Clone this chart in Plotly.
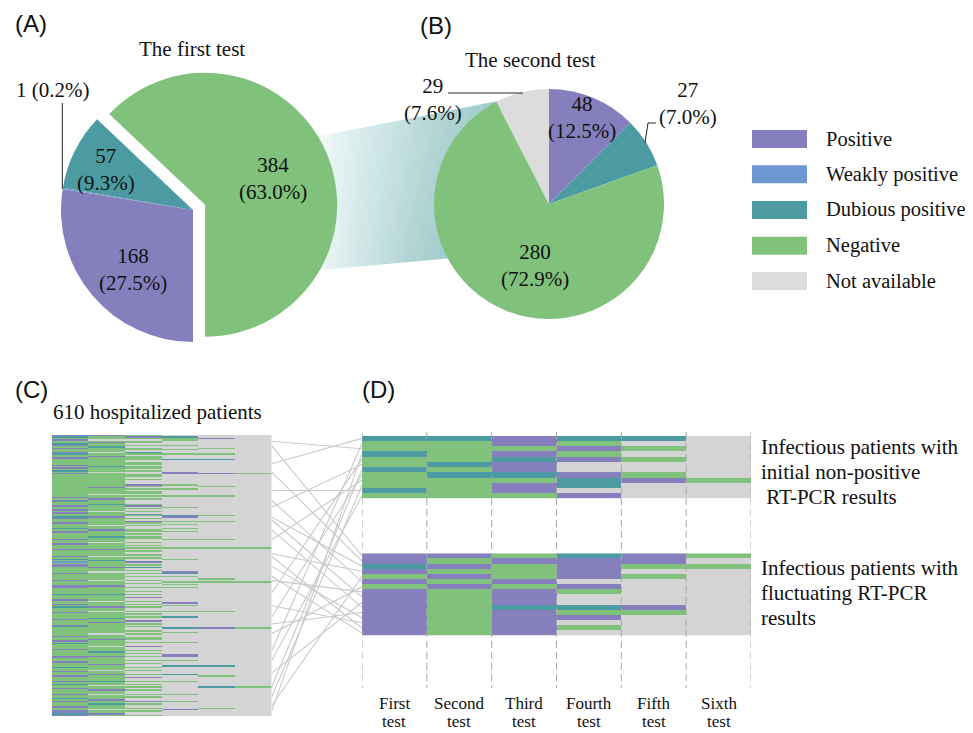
import plotly.graph_objects as go

# page body keeps an 8px margin, so the figure is made 8px smaller and every
# reference-pixel position is shifted by that offset
OFF = 8
W, H = 973, 733
FW, FH = W - OFF, H - OFF

# ---------------- data ----------------
STATUS = ["Positive", "Weakly positive", "Dubious positive", "Negative", "Not available"]
CODES = "PWDNX"
CELL_COLORS = ["#8580bd", "#6f97d1", "#4c9ba3", "#80c17c", "#d4d4d4"]
LEGEND_COLORS = ["#8580bd", "#6f97d1", "#4c9ba3", "#80c17c", "#dcdcdc"]

first_labels = ["Positive", "Weakly positive", "Dubious positive", "Negative"]
first_values = [168, 1, 57, 384]
second_labels = ["Positive", "Dubious positive", "Negative", "Not available"]
second_values = [48, 27, 280, 29]

test_names = ["First", "Second", "Third", "Fourth", "Fifth", "Sixth"]
test_word = "test"

# Panel C: 610 patients, drawn as 200 rows (about 3 patients per row)
N_C = 200
c_test1 = ("PDNPNNDPNPNNPDNNPNNN" "NPNPNDNPNNNNNNNNNNNN" "NNNNPNPDNNPNNPNPNNDP"
           "NNPNNNDNPPNNNNPNNPNN" "NPNNNNPNDNWNPPNNNNPN" "NNNPNNNPPNNNNDNNNPNN"
           "PNDNNNPNNNNPNNNPDNNN" "NNNPNNPNDNNNPNNNNPPN" "NPNNNDNNPNNPNNNPNDNN"
           "PNNNPNNDNPNNNPNNPPDP")
c_test2 = ("PNNXNPNNDNNNXNNPNNNN" "NNDNNNXNNNNNNNNNNPNN" "NNXNNPNNNDNNNNXNNNPN"
           "NNNNXNNPNNNNDNNNXNNN" "NPNNNNXNNDNNNNPNNXNN" "NNNXNNNPNNNNNDNNNNXN"
           "NNPNNXNNNNDNNPNNNNNN" "NXNNNPNNNNXNNNDNNPNN" "NNNPNNNXNNPNNNNDNNXN"
           "NPNNXNNNPNNDNNNXNNPN")
c_test3 = ("NPNXNNXNXNNXDNXNNNXN" "NXNNXNXXNNXNXXXPNXNX" "NNXNXNXXXNPXNXNXDNXN"
           "XPNXNXXNNXNXNNXXNXNX" "NXNXXNXNXXPXNXDXNXNX" "NXXNXNXXNXXNXNXPXXNX"
           "NXNXXNXNXNXXPXNXNXXN" "XNXXNNXNXXPXXNXNXNXX" "NXNXXNXNXXNXPXXNXNXN"
           "XNXXNXNXXPXNXXNXNXXN")
# sparse later tests: row -> result, all other rows not available
c_test4 = {1: "D", 2: "N", 3: "N", 7: "N", 10: "N", 13: "N", 17: "D", 26: "P", 27: "P",
           35: "N", 38: "N", 43: "N", 51: "N", 57: "D", 58: "P", 61: "N", 63: "N",
           66: "N", 68: "N", 74: "N", 80: "N", 88: "N", 97: "P", 98: "D", 100: "N",
           104: "N", 106: "N", 108: "N", 119: "P", 121: "N", 125: "N", 129: "D",
           137: "D", 140: "N", 147: "N", 156: "P", 157: "P", 160: "N", 164: "D",
           170: "D", 175: "N", 184: "N", 189: "N", 195: "P"}
c_test5 = {2: "P", 9: "N", 13: "N", 17: "D", 27: "P", 36: "N", 43: "N", 57: "N",
           61: "N", 74: "N", 80: "N", 102: "N", 104: "N", 125: "N", 137: "P",
           164: "D", 171: "N", 179: "D", 194: "N"}
c_test6 = {27: "N", 80: "N", 104: "N", 137: "N", 179: "N"}

# Panel D: two groups of infectious patients, one string per test (row order top->bottom)
d_top = ["DNNDNNDNNNDN", "DNNNNDNDNNNN", "PPNPDPPDNPPN",
         "DNPNPXXPDDXP", "DXNXNXXNPXXX", "XXXXXXXXNXXX"]
d_bottom = ["PPDPNPNPPPPPPPPP", "PNPNPNPNNNNNNNNN", "NPNNNPNPPPDPPPPP",
            "DPPPPXPNXXDNPXNX", "PPNXNXXXXXPNXXXX", "NXNXXXXXXXXXXXXX"]

# which panel-C row each panel-D row is linked to
link_top_c = [20, 153, 4, 196, 112, 51, 179, 129, 74, 186, 39, 160]
link_bottom_c = [7, 26, 58, 84, 192, 46, 141, 103, 60, 169, 67, 134, 93, 121, 86, 100]

# ---------------- layout constants (reference pixels) ----------------
C_L, C_R, C_T, C_B = 51.7, 271.7, 435.0, 716.0
D_L, D_R = 362.0, 751.0
DT_T, DT_B = 435.7, 498.3
DB_T, DB_B = 553.3, 635.7

SERIF = "Liberation Serif"
SANS = "Liberation Sans"
TXT = "#111111"


def pxx(x):
    return (x - OFF) / FW


def pxy(y):
    return 1 - (y - OFF) / FH


def code_idx(ch):
    return CODES.index(ch)


def sparse_to_str(d):
    return "".join(d.get(r, "X") for r in range(N_C))


c_cols = [c_test1, c_test2, c_test3, sparse_to_str(c_test4), sparse_to_str(c_test5), sparse_to_str(c_test6)]
c_cols = [s.ljust(N_C, "X")[:N_C] for s in c_cols]

cs = []
for i, c in enumerate(CELL_COLORS):
    cs += [[i / 5, c], [(i + 1) / 5, c]]


def grid(cols):
    n = len(cols[0])
    return [[code_idx(col[r]) for col in cols] for r in range(n)]


fig = go.Figure()

# ---------------- pies ----------------
fig.add_trace(go.Pie(
    values=first_values, labels=first_labels, sort=False, direction="clockwise",
    rotation=180, pull=[0, 0, 0, 0.1],
    marker=dict(colors=[LEGEND_COLORS[STATUS.index(l)] for l in first_labels], line=dict(width=0)),
    textinfo="none", hoverinfo="skip", showlegend=False,
    domain=dict(x=[pxx(47.8), pxx(338.2)], y=[pxy(355.2), pxy(64.8)])))
fig.add_trace(go.Pie(
    values=second_values, labels=second_labels, sort=False, direction="clockwise",
    rotation=0,
    marker=dict(colors=[LEGEND_COLORS[STATUS.index(l)] for l in second_labels], line=dict(width=0)),
    textinfo="none", hoverinfo="skip", showlegend=False,
    domain=dict(x=[pxx(434), pxx(664)], y=[pxy(319), pxy(89)])))

# ---------------- heatmaps ----------------
hm_common = dict(colorscale=cs, zmin=-0.5, zmax=4.5, showscale=False, hoverinfo="skip", zsmooth=False)
fig.add_trace(go.Heatmap(z=grid(c_cols), x=list(range(6)), y=list(range(N_C)),
                         xaxis="x", yaxis="y", **hm_common))
fig.add_trace(go.Heatmap(z=grid(d_top), x=list(range(6)), y=list(range(len(d_top[0]))),
                         xaxis="x2", yaxis="y2", **hm_common))
fig.add_trace(go.Heatmap(z=grid(d_bottom), x=list(range(6)), y=list(range(len(d_bottom[0]))),
                         xaxis="x3", yaxis="y3", **hm_common))

# ---------------- link lines ----------------
def c_row_px(r):
    return C_T + (r + 0.5) * (C_B - C_T) / N_C


def d_row_px(r, top, bot, n):
    return top + (r + 0.5) * (bot - top) / n


lx, ly = [], []
for d, c in enumerate(link_top_c):
    lx += [0, 1, None]
    ly += [c_row_px(c), d_row_px(d, DT_T, DT_B, len(d_top[0])), None]
for d, c in enumerate(link_bottom_c):
    lx += [0, 1, None]
    ly += [c_row_px(c), d_row_px(d, DB_T, DB_B, len(d_bottom[0])), None]
fig.add_trace(go.Scatter(x=lx, y=ly, mode="lines", line=dict(color="#c9c9c9", width=1.1),
                         hoverinfo="skip", showlegend=False, xaxis="x4", yaxis="y4"))

ax_hidden = dict(visible=False, showgrid=False, zeroline=False, fixedrange=True)

fig.update_layout(
    width=FW, height=FH, autosize=False,
    margin=dict(l=0, r=0, t=0, b=0),
    paper_bgcolor="white", plot_bgcolor="rgba(0,0,0,0)",
    showlegend=False,
    xaxis=dict(domain=[pxx(C_L), pxx(C_R)], range=[-0.5, 5.5], **ax_hidden),
    yaxis=dict(domain=[pxy(C_B), pxy(C_T)], range=[N_C - 0.5, -0.5], **ax_hidden),
    xaxis2=dict(domain=[pxx(D_L), pxx(D_R)], range=[-0.5, 5.5], **ax_hidden),
    yaxis2=dict(domain=[pxy(DT_B), pxy(DT_T)], range=[len(d_top[0]) - 0.5, -0.5], **ax_hidden),
    xaxis3=dict(domain=[pxx(D_L), pxx(D_R)], range=[-0.5, 5.5], **ax_hidden),
    yaxis3=dict(domain=[pxy(DB_B), pxy(DB_T)], range=[len(d_bottom[0]) - 0.5, -0.5], **ax_hidden),
    xaxis4=dict(domain=[pxx(C_R), pxx(D_L)], range=[0, 1], **ax_hidden),
    yaxis4=dict(domain=[0, 1], range=[OFF + FH, OFF], **ax_hidden),
)

shapes = []

# gradient cone from pie A to pie B
TL, TR, BL, BR = (300, 140), (503, 100), (300, 272), (452, 258)
n_layers = 30
for k in range(n_layers):
    t = k / n_layers
    p1 = (TL[0] + (TR[0] - TL[0]) * t, TL[1] + (TR[1] - TL[1]) * t)
    p2 = (BL[0] + (BR[0] - BL[0]) * t, BL[1] + (BR[1] - BL[1]) * t)
    path = "M {},{} L {},{} L {},{} L {},{} Z".format(
        pxx(p1[0]), pxy(p1[1]), pxx(TR[0]), pxy(TR[1]), pxx(BR[0]), pxy(BR[1]), pxx(p2[0]), pxy(p2[1]))
    shapes.append(dict(type="path", path=path, xref="paper", yref="paper",
                       fillcolor="rgba(95,155,165,0.024)", line=dict(width=0), layer="below"))

# callout lines
shapes.append(dict(type="line", xref="paper", yref="paper", x0=pxx(62.3), x1=pxx(62.3),
                   y0=pxy(103), y1=pxy(189), line=dict(color="#222", width=1)))
shapes.append(dict(type="line", xref="paper", yref="paper", x0=pxx(448), x1=pxx(523),
                   y0=pxy(93), y1=pxy(93), line=dict(color="#222", width=1)))
shapes.append(dict(type="path", xref="paper", yref="paper",
                   path="M {},{} L {},{} L {},{}".format(pxx(645), pxy(143), pxx(648), pxy(123), pxx(656), pxy(123)),
                   line=dict(color="#222", width=1)))

# legend swatches
legend_y = [139, 174.3, 210, 245.7, 281]
for i, yy in enumerate(legend_y):
    shapes.append(dict(type="rect", xref="paper", yref="paper", x0=pxx(752), x1=pxx(807),
                       y0=pxy(yy + 9), y1=pxy(yy - 9), fillcolor=LEGEND_COLORS[i], line=dict(width=0)))

# dashed column separators in panel D
for k in range(7):
    shapes.append(dict(type="line", xref="x3", yref="paper", x0=k - 0.5, x1=k - 0.5,
                       y0=pxy(432), y1=pxy(688), line=dict(color="#a8a8a8", width=1, dash="7px,4px"),
                       layer="above"))

ann = []


def add_text(x, y, text, size=21, family=SERIF, xanchor="center", yanchor="middle", align="center"):
    ann.append(dict(x=pxx(x), y=pxy(y), xref="paper", yref="paper", text=text, showarrow=False,
                    xanchor=xanchor, yanchor=yanchor, align=align,
                    font=dict(family=family, size=size, color=TXT)))


# panel labels
add_text(31, 24, "(A)", size=24, family=SANS)
add_text(436, 26, "(B)", size=24, family=SANS)
add_text(31, 389, "(C)", size=24, family=SANS)
add_text(378, 389, "(D)", size=24, family=SANS)

add_text(192, 49, "The first test")
add_text(530, 60, "The second test")
add_text(51, 412, "610 hospitalized patients", xanchor="left")

tot1 = sum(first_values)
tot2 = sum(second_values)


def lab(v, tot, sep="<br>"):
    return "{}{}({:.1f}%)".format(v, sep, 100 * v / tot)


# pie A labels: Positive, Weakly, Dubious, Negative
add_text(133, 270, lab(first_values[0], tot1))
add_text(52, 90, lab(first_values[1], tot1, sep=" "))
add_text(106, 170, lab(first_values[2], tot1))
add_text(273, 178, lab(first_values[3], tot1))
# pie B labels: Positive, Dubious, Negative, NA
add_text(582, 117, lab(second_values[0], tot2))
add_text(688, 103, lab(second_values[1], tot2))
add_text(535, 265, lab(second_values[2], tot2))
add_text(433, 99.5, lab(second_values[3], tot2))

# legend text
for i, yy in enumerate(legend_y):
    add_text(824, yy, STATUS[i], size=20.5, xanchor="left")

# group labels
for yy, t in zip([447, 472, 497], ["Infectious patients with", "initial non-positive", "\u00a0RT-PCR results"]):
    add_text(759, yy, t, xanchor="left")
for yy, t in zip([568, 593, 618], ["Infectious patients with", "fluctuating RT-PCR", "results"]):
    add_text(759, yy, t, xanchor="left")

# test labels, placed on the panel-D column scale (two lines each)
for k, name in enumerate(test_names):
    for yy, t in ((703.5, name), (721, test_word)):
        ann.append(dict(x=k, y=pxy(yy), xref="x3", yref="paper", text=t, showarrow=False,
                        xanchor="center", yanchor="middle", align="center",
                        font=dict(family=SERIF, size=17, color=TXT)))

fig.update_layout(shapes=shapes, annotations=ann)
fig.write_html("out.html")
